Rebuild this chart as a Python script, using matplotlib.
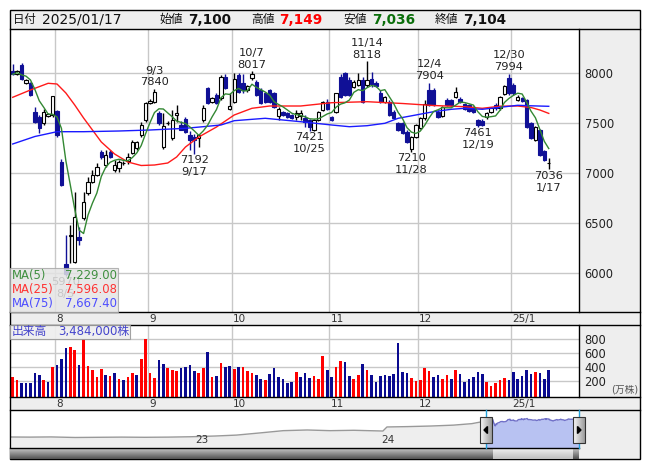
import numpy as np
import pandas as pd
import matplotlib
matplotlib.use("Agg")
import matplotlib.pyplot as plt
from matplotlib.patches import Rectangle, Polygon

plt.rcParams["font.family"] = ["DejaVu Sans", "Noto Sans CJK JP"]

W, H = 653, 470

# ---------------- data ----------------
# trading days shown on the chart (TSE holidays removed)
holidays = ["2024-08-12", "2024-09-16", "2024-09-23", "2024-10-14", "2024-11-04",
            "2024-12-31", "2025-01-01", "2025-01-02", "2025-01-03", "2025-01-13"]
dates = pd.bdate_range("2024-07-18", "2025-01-17")
dates = dates[~dates.isin(pd.to_datetime(holidays))]

opens = [8023, 7987, 8080, 7897, 7897, 7613, 7560, 7497, 7570, 7580,
         7620, 7110, 6090, 6370, 6113, 6363, 6547, 6797, 6913, 6980,
         7213, 7080, 7213, 7030, 7047, 7097, 7123, 7200, 7247, 7380,
         7530, 7700, 7713, 7600, 7257, 7497, 7347, 7580, 7480, 7537,
         7380, 7363, 7347, 7530, 7847, 7713, 7780, 7747, 7963, 7640,
         7713, 7980, 7900, 7830, 7947, 7913, 7830, 7797, 7830, 7797,
         7570, 7613, 7603, 7580, 7557, 7570, 7547, 7530, 7430, 7530,
         7630, 7713, 7557, 7613, 7963, 7997, 7930, 7863, 7883, 7930,
         7880, 7940, 7900, 7797, 7713, 7713, 7613, 7497, 7497, 7413,
         7240, 7363, 7450, 7547, 7830, 7830, 7613, 7570, 7730, 7730,
         7763, 7737, 7690, 7680, 7657, 7530, 7523, 7557, 7613, 7680,
         7647, 7790, 7947, 7880, 7730, 7747, 7730, 7497, 7330, 7430,
         7223, 7100]
highs = [8090, 8030, 8103, 7940, 7910, 7663, 7580, 7640, 7600, 7770,
         7630, 7140, 6380, 6480, 6813, 6463, 6813, 6963, 7030, 7100,
         7230, 7230, 7230, 7130, 7130, 7120, 7200, 7330, 7320, 7513,
         7713, 7740, 7840, 7620, 7597, 7520, 7630, 7680, 7520, 7560,
         7420, 7390, 7390, 7680, 7860, 7760, 7800, 7980, 7990, 7800,
         7997, 8000, 7990, 7880, 8017, 7930, 7850, 7810, 7840, 7810,
         7663, 7620, 7610, 7590, 7630, 7630, 7580, 7545, 7540, 7620,
         7720, 7740, 7570, 7800, 7990, 8010, 7960, 7930, 8000, 7960,
         8118, 8010, 7920, 7830, 7770, 7730, 7630, 7510, 7510, 7430,
         7370, 7490, 7560, 7730, 7904, 7850, 7630, 7670, 7750, 7740,
         7863, 7760, 7700, 7690, 7670, 7545, 7540, 7610, 7660, 7700,
         7770, 7880, 7994, 7900, 7780, 7760, 7740, 7510, 7470, 7440,
         7230, 7149]
lows = [7980, 7980, 7930, 7890, 7770, 7497, 7400, 7480, 7560, 7560,
        7360, 6870, 5970, 6100, 6100, 6280, 6530, 6780, 6900, 6970,
        7140, 7060, 7150, 7010, 7010, 7080, 7090, 7190, 7230, 7363,
        7513, 7690, 7700, 7480, 7240, 7480, 7330, 7510, 7430, 7400,
        7230, 7192, 7260, 7510, 7690, 7700, 7690, 7730, 7840, 7630,
        7700, 7800, 7800, 7810, 7930, 7770, 7690, 7700, 7700, 7650,
        7530, 7570, 7550, 7540, 7530, 7530, 7460, 7421, 7425, 7520,
        7620, 7630, 7520, 7600, 7750, 7770, 7770, 7850, 7870, 7700,
        7860, 7860, 7860, 7700, 7700, 7570, 7540, 7420, 7390, 7300,
        7210, 7350, 7440, 7530, 7670, 7670, 7550, 7560, 7670, 7670,
        7750, 7700, 7630, 7610, 7600, 7461, 7470, 7540, 7600, 7630,
        7630, 7780, 7780, 7780, 7720, 7710, 7450, 7340, 7320, 7170,
        7120, 7036]
closes = [7987, 8020, 7937, 7930, 7780, 7513, 7450, 7613, 7590, 7770,
          7380, 6880, 5990, 6385, 6557, 6330, 6713, 6913, 6980, 7063,
          7157, 7180, 7157, 7080, 7113, 7100, 7163, 7313, 7313, 7480,
          7697, 7720, 7813, 7500, 7470, 7500, 7530, 7600, 7430, 7413,
          7330, 7330, 7380, 7647, 7700, 7747, 7700, 7963, 7847, 7670,
          7937, 7813, 7830, 7870, 7990, 7780, 7697, 7713, 7713, 7663,
          7640, 7580, 7557, 7547, 7597, 7597, 7513, 7457, 7530, 7613,
          7713, 7640, 7530, 7797, 7763, 7780, 7780, 7913, 7930, 7713,
          7930, 7890, 7870, 7713, 7763, 7580, 7547, 7430, 7397, 7313,
          7357, 7480, 7547, 7690, 7680, 7680, 7563, 7657, 7680, 7680,
          7813, 7713, 7637, 7620, 7613, 7480, 7480, 7597, 7647, 7650,
          7763, 7870, 7797, 7797, 7763, 7723, 7463, 7347, 7463, 7180,
          7130, 7104]

# volume in 10,000 shares; r = red bar, b = blue bar
volume = [249, 210, 172, 172, 172, 317, 283, 210, 186, 403,
          428, 515, 679, 693, 645, 428, 800, 413, 355, 259,
          370, 283, 268, 317, 225, 210, 259, 317, 283, 515,
          800, 317, 239, 500, 442, 379, 355, 341, 379, 403,
          428, 341, 317, 379, 616, 249, 268, 461, 403, 413,
          365, 403, 403, 341, 317, 283, 225, 210, 297, 379,
          259, 225, 172, 186, 331, 259, 317, 244, 273, 230,
          563, 355, 259, 403, 486, 471, 268, 225, 283, 442,
          355, 283, 186, 268, 283, 268, 297, 751, 326, 312,
          239, 201, 210, 384, 341, 254, 283, 225, 283, 225,
          355, 297, 186, 225, 254, 326, 297, 186, 123, 172,
          210, 239, 210, 326, 225, 268, 355, 297, 326, 312,
          225, 348.4]
vol_colors = ("rrbbbbbrbr" "bbbrrbrrrr" "rbrbrbrrbr" "rrrbbrrrbb" "bbrrbrbrbb"
              "rbrrrbbrbb" "bbbbrbbbrr" "rbbrrbbrrb" "rbbbbbbbbb" "rrrrrbbrrb"
              "rbbbbbbrrr" "rrbbbbbbrb" "bb")

# moving averages (index, value)
ma25_idx = [0, 4, 8, 10, 12, 14, 16, 18, 20, 23, 26, 29, 32, 35, 37, 39, 42, 46,
            50, 54, 58, 65, 72, 80, 88, 95, 102, 106, 110, 114, 117, 119, 121]
ma25_val = [7757, 7830, 7897, 7890, 7800, 7680, 7550, 7430, 7310, 7190, 7110, 7075,
            7080, 7100, 7160, 7260, 7360, 7460, 7580, 7647, 7670, 7670, 7703, 7713,
            7695, 7675, 7663, 7647, 7668, 7670, 7655, 7630, 7596]
ma75_idx = [0, 5, 10, 16, 24, 31, 39, 43, 47, 50, 57, 65, 72, 76, 80, 84, 87, 91,
            95, 99, 102, 106, 110, 114, 117, 121]
ma75_val = [7290, 7365, 7413, 7413, 7420, 7430, 7447, 7463, 7480, 7523, 7547, 7513,
            7480, 7463, 7473, 7497, 7547, 7580, 7613, 7637, 7647, 7637, 7657, 7677,
            7672, 7667]
ma_names = ["MA(5)", "MA(25)", "MA(75)"]
ma_values = ["7,229.00", "7,596.08", "7,667.40"]

high_marks = [32, 54, 80, 94, 112]
low_marks = [12, 41, 67, 90, 105, 121]

month_labels = ["8", "9", "10", "11", "12", "25/1"]
price_ticks = [6000, 6500, 7000, 7500, 8000]
vol_ticks = [200, 400, 600, 800]

# long-term line in the navigator (before the shown range)
nav_dates = ["2021-12-27", "2022-02-01", "2022-03-15", "2022-05-01", "2022-06-15",
             "2022-08-01", "2022-09-15", "2022-11-01", "2022-12-15", "2023-02-01",
             "2023-03-15", "2023-05-01", "2023-06-15", "2023-08-01", "2023-09-15",
             "2023-11-01", "2023-12-28", "2024-01-05", "2024-02-15", "2024-04-01",
             "2024-05-15", "2024-06-20", "2024-07-17"]
nav_vals = [2980, 2950, 3000, 2850, 2900, 2950, 2900, 2950, 3050, 3250,
            3500, 4100, 4700, 4880, 4700, 4800, 4600, 5700, 5800, 5960,
            6200, 6600, 7300]
nav_years = ["23", "24"]

BLUE = "#101096"
RED = "#ff0000"
GRID = "#c8c8c8"


def rect(x0, y0, x1, y1):
    return [x0 / W, 1 - y1 / H, (x1 - x0) / W, (y1 - y0) / H]


fig = plt.figure(figsize=(W / 100, H / 100), dpi=100)

# background panels
ax_bg = fig.add_axes([0, 0, 1, 1], zorder=-1)
ax_bg.set_xlim(0, W)
ax_bg.set_ylim(H, 0)
ax_bg.axis("off")
ax_bg.add_patch(Rectangle((10, 10), 630, 449, facecolor="#eeeeee", edgecolor="none"))

n = len(closes)
x = np.arange(n)
o = np.array(opens)
c = np.array(closes)
up = c >= o
xlim = (-0.61, 127.83)
month_start = [i for i in range(1, n) if dates[i].month != dates[i - 1].month]
bounds = [m - 0.5 for m in month_start]

# -------- price --------
ax_p = fig.add_axes(rect(10, 29, 579, 312))
ax_p.set_xlim(*xlim)
ax_p.set_ylim(5610, 8440)
for s in ax_p.spines.values():
    s.set_visible(False)
ax_p.set_yticks(price_ticks)
ax_p.set_xticks(bounds)
ax_p.grid(True, color=GRID, lw=1)
ax_p.set_axisbelow(True)
ax_p.yaxis.tick_right()
ax_p.tick_params(axis="y", length=0, pad=4, labelsize=8.3, labelcolor="#222222")
ax_p.tick_params(axis="x", length=0, labelbottom=False)

edge = np.where(up, "black", BLUE)
face = np.where(up, "white", BLUE)
ax_p.vlines(x, lows, highs, colors=edge, lw=1, zorder=2)
ax_p.bar(x, np.maximum(np.abs(c - o), 5), bottom=np.minimum(o, c), width=0.75,
         color=face, edgecolor=edge, lw=0.8, zorder=3)

ma5 = pd.Series(closes).rolling(5, min_periods=1).mean()
ax_p.plot(ma25_idx, ma25_val, color="#ff1a1a", lw=1, zorder=4)
ax_p.plot(ma75_idx, ma75_val, color="#1a1aff", lw=1, zorder=4)
ax_p.plot(x, ma5, color="#338833", lw=1, zorder=5)

for i in high_marks:
    d = f"{dates[i].month}/{dates[i].day}"
    ax_p.annotate(f"{highs[i]}", (i, highs[i]), xytext=(0, 4.8), textcoords="offset points",
                  ha="center", va="center", fontsize=8.2, color="#222222", zorder=6)
    ax_p.annotate(d, (i, highs[i]), xytext=(0, 13.3), textcoords="offset points",
                  ha="center", va="center", fontsize=8.2, color="#222222", zorder=6)
for i in low_marks:
    d = f"{dates[i].month}/{dates[i].day}"
    ax_p.annotate(f"{lows[i]}", (i, lows[i]), xytext=(0, -4.5), textcoords="offset points",
                  ha="center", va="center", fontsize=8.2, color="#222222", zorder=6)
    ax_p.annotate(d, (i, lows[i]), xytext=(0, -13.3), textcoords="offset points",
                  ha="center", va="center", fontsize=8.2, color="#222222", zorder=6)

# -------- date strips --------
for y0, y1 in [(312, 325), (397, 410)]:
    ax_d = fig.add_axes(rect(10, y0, 579, y1))
    ax_d.set_xlim(*xlim)
    ax_d.set_ylim(0, 1)
    ax_d.axis("off")
    for m, lab in zip(month_start, month_labels):
        ax_d.text(m - 0.25, 0.45, lab, ha="left", va="center", fontsize=7.5, color="#333333")

# -------- volume --------
ax_v = fig.add_axes(rect(10, 325, 579, 397))
ax_v.set_xlim(*xlim)
vmin = -36
ax_v.set_ylim(vmin, 1007)
for s in ax_v.spines.values():
    s.set_visible(False)
ax_v.set_yticks(vol_ticks)
ax_v.set_xticks(bounds)
ax_v.grid(True, color=GRID, lw=1)
ax_v.set_axisbelow(True)
ax_v.yaxis.tick_right()
ax_v.tick_params(axis="y", length=0, pad=4, labelsize=8.3, labelcolor="#222222")
ax_v.tick_params(axis="x", length=0, labelbottom=False)
vcol = [RED if ch == "r" else "#0a0a90" for ch in vol_colors]
ax_v.bar(x, np.array(volume) - vmin, bottom=vmin, width=0.6, color=vcol, zorder=3)
ax_v.text(1.105, 0.1, "(万株)", transform=ax_v.transAxes, ha="right", va="center",
          fontsize=7, color="#555555")

# -------- navigator --------
ax_n = fig.add_axes(rect(10, 410, 579, 448))
for s in ax_n.spines.values():
    s.set_visible(False)
ax_n.set_xticks([])
ax_n.set_yticks([])
hist_d = pd.to_datetime(nav_dates)
ax_n.set_xlim(pd.Timestamp("2021-12-24"), dates[-1])
ax_n.set_ylim(0, 10300)
ax_n.fill_between(hist_d, nav_vals, 0, color="#eeeeee", lw=0)
ax_n.plot(hist_d, nav_vals, color="#999999", lw=1)
ax_n.fill_between(dates, closes, 0, color="#b8c2f2", lw=0)
ax_n.plot(dates, closes, color="#7070c8", lw=1)
for yr in nav_years:
    ax_n.text(pd.Timestamp(f"20{yr}-01-06"), 0.21, yr, transform=ax_n.get_xaxis_transform(),
              ha="center", va="center", fontsize=7.5, color="#333333")

# -------- foreground: frame, header, legends, navigator handles --------
ax_f = fig.add_axes([0, 0, 1, 1], zorder=10)
ax_f.set_xlim(0, W)
ax_f.set_ylim(H, 0)
ax_f.axis("off")
ax_f.patch.set_visible(False)

k = dict(color="black", lw=1)
ax_f.add_patch(Rectangle((10, 10), 630, 449, fill=False, edgecolor="black", lw=1))
for yy in [29, 312, 325, 397, 410]:
    ax_f.plot([10, 640], [yy, yy], **k)
ax_f.plot([579, 579], [29, 312], **k)
ax_f.plot([579, 579], [325, 397], **k)

# scrollbar
grad = np.linspace(0, 1, 20)[:, None]
dark = np.dstack([0.78 - 0.45 * grad] * 3)
light = np.dstack([0.95 - 0.2 * grad] * 3)
ax_f.imshow(dark, extent=(10, 493, 459, 448), aspect="auto", zorder=1)
ax_f.imshow(light, extent=(493, 573, 459, 448), aspect="auto", zorder=1)
ax_f.imshow(dark, extent=(573, 579, 459, 448), aspect="auto", zorder=1)
ax_f.plot([10, 579], [448, 448], **k)
ax_f.set_xlim(0, W)
ax_f.set_ylim(H, 0)

# handles
for hx, dirn in [(486, -1), (579, 1)]:
    ax_f.plot([hx, hx], [410, 448], color="#22a0d8", lw=1, zorder=2)
    hg = np.dstack([0.97 - 0.35 * np.linspace(0, 1, 12)[None, :]] * 3)
    ax_f.imshow(hg, extent=(hx - 6, hx + 6, 443, 417), aspect="auto", zorder=3)
    ax_f.add_patch(Rectangle((hx - 6, 417), 12, 26, fill=False, edgecolor="#333333", lw=0.8, zorder=4))
    tri = [(hx + 2 * dirn, 430), (hx - 1.5 * dirn, 426.5), (hx - 1.5 * dirn, 433.5)]
    ax_f.add_patch(Polygon(tri, closed=True, color="black", zorder=5))
ax_f.set_xlim(0, W)
ax_f.set_ylim(H, 0)

# header
def ftext(xp, yp, s, **kw):
    fig.text(xp / W, 1 - yp / H, s, va="center", ha="left", **kw)

ftext(13, 19.5, "日付", fontsize=8.2, color="#111111")
ftext(42, 19.5, dates[-1].strftime("%Y/%m/%d"), fontsize=10, color="#111111")
ftext(159, 19.5, "始値", fontsize=8.5, color="#111111")
ftext(188, 19.5, f"{opens[-1]:,}", fontsize=9.8, fontweight="bold", color="#111111")
ftext(251, 19.5, "高値", fontsize=8.5, color="#111111")
ftext(279, 19.5, f"{highs[-1]:,}", fontsize=9.8, fontweight="bold", color="#ff0000")
ftext(343, 19.5, "安値", fontsize=8.5, color="#111111")
ftext(372, 19.5, f"{lows[-1]:,}", fontsize=9.8, fontweight="bold", color="#0a6e0a")
ftext(435, 19.5, "終値", fontsize=8.5, color="#111111")
ftext(463, 19.5, f"{closes[-1]:,}", fontsize=9.8, fontweight="bold", color="#111111")

# MA legend box (the 8/5 low label shows faintly through it, as in the original)
ax_f.add_patch(Rectangle((10, 268), 108, 44, facecolor="#e4e4e4", alpha=0.85,
                         edgecolor="#a8a8a8", lw=0.8, zorder=6))
ma_cols = ["#3f8f3f", "#ff3333", "#4d4dff"]
for j, (nm, val, col) in enumerate(zip(ma_names, ma_values, ma_cols)):
    yy = 275 + 14 * j
    ax_f.text(12, yy, nm, ha="left", va="center", fontsize=8.4, color=col, zorder=7)
    ax_f.text(117, yy, val, ha="right", va="center", fontsize=8.4, color=col, zorder=7)

# volume box
ax_f.add_patch(Rectangle((10, 325), 120, 14, facecolor="#eeeeee", alpha=0.9,
                         edgecolor="#999999", lw=0.8, zorder=6))
ax_f.text(12, 332, "出来高", ha="left", va="center", fontsize=8.5, color="#4444cc", zorder=7)
ax_f.text(58, 332, f"{int(round(volume[-1] * 10000)):,}株", ha="left", va="center",
          fontsize=8.5, color="#4444cc", zorder=7)

fig.savefig("out.png", dpi=100, facecolor="white")
